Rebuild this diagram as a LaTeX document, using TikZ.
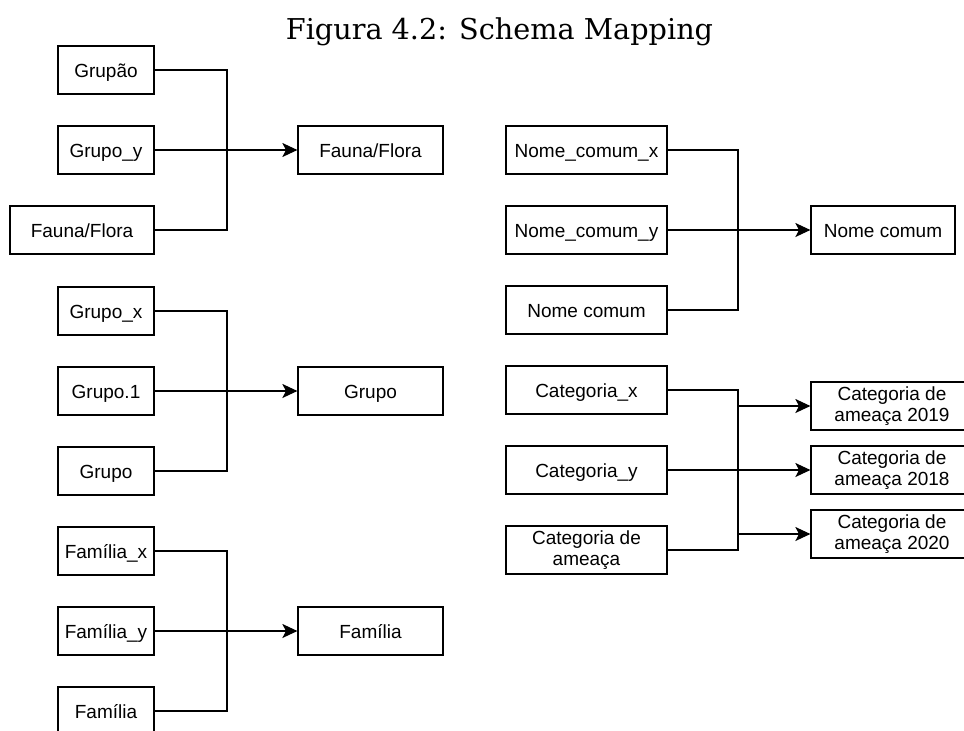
\documentclass[tikz,border=0pt]{standalone}
\usepackage{fontspec}
\setmainfont{Liberation Sans}
\newfontfamily\titlefont{DejaVu Serif}
\usetikzlibrary{arrows.meta}
\tikzset{
  box/.style={draw, line width=1.2pt, rectangle, inner sep=0pt, minimum height=48pt,
    font=\fontsize{19}{21.5}\selectfont, align=center},
  one/.style={text height=14pt, text depth=0pt},
  sbox/.style={box, one, minimum width=96pt},
  wbox/.style={box, one, minimum width=145pt},
  rbox/.style={box, one, minimum width=161pt},
  cbox/.style={box, minimum width=162pt},
  conn/.style={line width=1.2pt},
  arr/.style={line width=1.2pt, -{Stealth[length=15pt,width=14pt,inset=3.5pt]}},
}
\begin{document}
\begin{tikzpicture}[x=1pt,y=-1pt]
\useasboundingbox (0,0) rectangle (964,731);
\node[anchor=base, font=\titlefont\fontsize{28.7}{32}\selectfont] (title) at (499.5,39) {Figura 4.2: Schema Mapping};

% group 1
\node[sbox] (a1) at (106,70) {Grupão};
\node[sbox] (a2) at (106,150) {Grupo\_y};
\node[box, one, minimum width=144pt] (a3) at (82,230) {Fauna/Flora};
\node[wbox] (at) at (370.5,150) {Fauna/Flora};
\coordinate (ja) at (227,150);
\draw[conn] (a1.east) -| (ja) |- (a3.east);
\draw[arr] (a2.east) -- (at.west);

% group 2
\node[sbox] (b1) at (106,311) {Grupo\_x};
\node[sbox] (b2) at (106,391) {Grupo.1};
\node[sbox] (b3) at (106,471) {Grupo};
\node[wbox] (bt) at (370.5,391) {Grupo};
\coordinate (jb) at (227,391);
\draw[conn] (b1.east) -| (jb) |- (b3.east);
\draw[arr] (b2.east) -- (bt.west);

% group 3
\node[sbox] (c1) at (106,551) {Família\_x};
\node[sbox] (c2) at (106,631) {Família\_y};
\node[sbox] (c3) at (106,711) {Família};
\node[wbox] (ct) at (370.5,631) {Família};
\coordinate (jc) at (227,631);
\draw[conn] (c1.east) -| (jc) |- (c3.east);
\draw[arr] (c2.east) -- (ct.west);

% group 4
\node[rbox] (d1) at (586.5,150) {Nome\_comum\_x};
\node[rbox] (d2) at (586.5,230) {Nome\_comum\_y};
\node[rbox] (d3) at (586.5,310) {Nome comum};
\node[box, one, minimum width=144pt] (dt) at (883,230) {Nome comum};
\coordinate (jd) at (738,230);
\draw[conn] (d1.east) -| (jd) |- (d3.east);
\draw[arr] (d2.east) -- (dt.west);

% group 5
\node[rbox] (e1) at (586.5,390) {Categoria\_x};
\node[rbox] (e2) at (586.5,470) {Categoria\_y};
\node[box, minimum width=161pt] (e3) at (586.5,550) {Categoria de\\ameaça};
\node[cbox] (et1) at (892,406) {Categoria de\\ameaça 2019};
\node[cbox] (et2) at (892,470) {Categoria de\\ameaça 2018};
\node[cbox] (et3) at (892,534) {Categoria de\\ameaça 2020};
\coordinate (je1) at (738,406);
\coordinate (je3) at (738,534);
\draw[conn] (e1.east) -| (je1) -- (je3) |- (e3.east);
\draw[arr] (je1) -- (et1.west);
\draw[arr] (e2.east) -- (et2.west);
\draw[arr] (je3) -- (et3.west);
\end{tikzpicture}
\end{document}
